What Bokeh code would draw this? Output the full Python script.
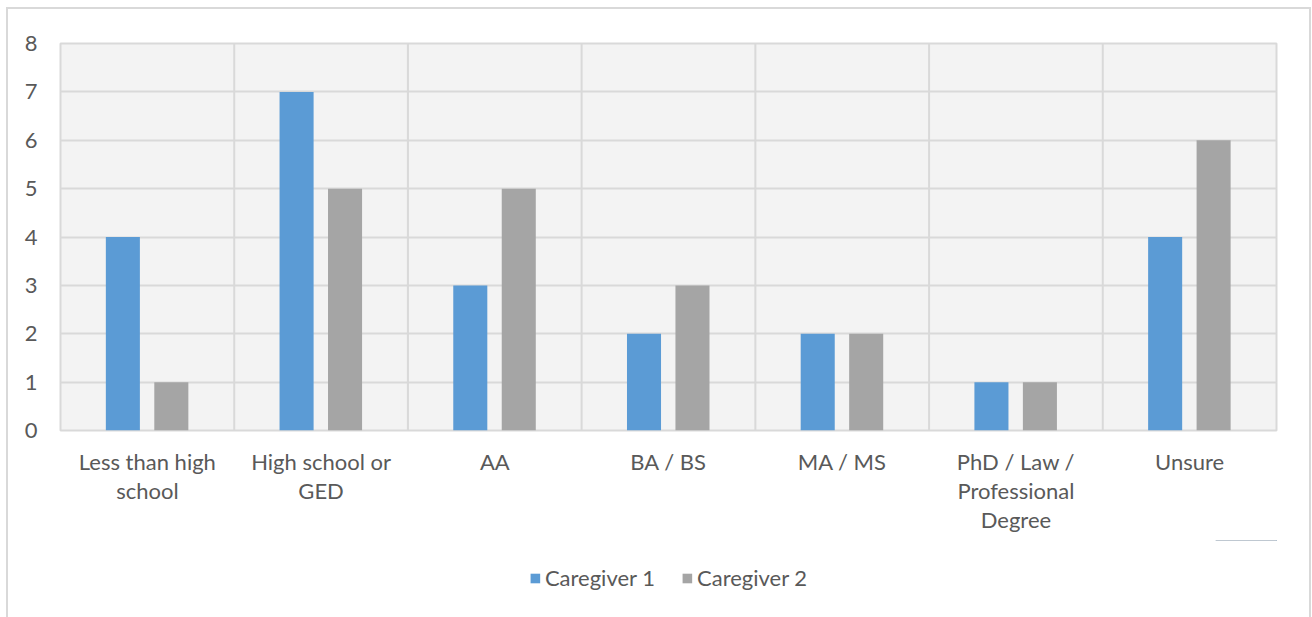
from bokeh.plotting import figure
from bokeh.layouts import column
from bokeh.models import (ColumnDataSource, FactorRange, Range1d, Span, Legend, LegendItem,
                          FixedTicker)
from bokeh.transform import dodge
from bokeh.embed import file_html
from bokeh.resources import INLINE

# Education level of each caregiver (counts of respondents)
categories = ["Less than high\nschool", "High school or\nGED", "AA", "BA / BS",
              "MA / MS", "PhD / Law /\nProfessional\nDegree", "Unsure"]
caregiver_1 = [4, 7, 3, 2, 2, 1, 4]
caregiver_2 = [1, 5, 5, 3, 2, 1, 6]
series_names = ["Caregiver 1", "Caregiver 2"]
y_ticks = [0, 1, 2, 3, 4, 5, 6, 7, 8]

BLUE = "#5b9bd5"
GRAY = "#a5a5a5"
GRID = "#d9d9d9"
TEXT = "#595959"
FONT = "Lato"

source = ColumnDataSource(dict(cat=categories, c1=caregiver_1, c2=caregiver_2))

# ---- main bar chart ----
p = figure(width=1301, height=531, x_range=FactorRange(*categories),
           y_range=Range1d(0, 8), output_backend="svg", toolbar_location=None,
           min_border_left=52, min_border_right=33, min_border_top=34,
           min_border_bottom=110)

p.background_fill_color = "#f3f3f3"
p.border_fill_color = "white"
p.outline_line_color = GRID
p.outline_line_width = 2

# vertical separators between categories
for i in range(1, len(categories)):
    p.add_layout(Span(location=i, dimension="height", line_color=GRID, line_width=2,
                      level="underlay"))

p.vbar(x=dodge("cat", -0.141, range=p.x_range), top="c1", width=0.196,
       source=source, color=BLUE, line_color=None)
p.vbar(x=dodge("cat", 0.138, range=p.x_range), top="c2", width=0.196,
       source=source, color=GRAY, line_color=None)

p.xgrid.visible = False
p.ygrid.grid_line_color = GRID
p.ygrid.grid_line_width = 2
p.yaxis.ticker = FixedTicker(ticks=y_ticks)

for ax in (p.xaxis[0], p.yaxis[0]):
    ax.axis_line_color = None
    ax.major_tick_line_color = None
    ax.minor_tick_line_color = None
    ax.major_label_text_font = FONT
    ax.major_label_text_font_size = "22px"
    ax.major_label_text_color = TEXT
    ax.major_label_text_line_height = 1.09

p.yaxis.major_label_standoff = 17
p.xaxis.major_label_standoff = 11

# ---- legend strip under the chart ----
# its y range lies below zero, so the key renderers only show up as legend swatches
lg = figure(width=1301, height=77, x_range=Range1d(0, 1), y_range=Range1d(-2, -1),
            output_backend="svg", toolbar_location=None, min_border=0)
lg.axis.visible = False
lg.grid.visible = False
lg.outline_line_color = None
lg.background_fill_color = "white"
lg.border_fill_color = "white"

key1 = lg.vbar(x="c1", top="c1", width=0.1, source=source, color=BLUE, line_color=None)
key2 = lg.vbar(x="c2", top="c2", width=0.1, source=source, color=GRAY, line_color=None)

legend = Legend(items=[LegendItem(label=series_names[0], renderers=[key1]),
                       LegendItem(label=series_names[1], renderers=[key2])],
                orientation="horizontal", location="top_center",
                label_text_font=FONT, label_text_font_size="22px",
                label_text_color=TEXT, glyph_width=12, glyph_height=12,
                label_standoff=4, spacing=26, border_line_color=None,
                background_fill_alpha=0, margin=24, padding=0)
lg.add_layout(legend, "center")

# chart border around the whole graphic (open at the bottom)
layout = column(p, lg, spacing=0,
                styles={"margin-left": "6px", "margin-top": "7px",
                        "border-left": f"2px solid {GRID}",
                        "border-top": f"2px solid {GRID}",
                        "border-right": f"2px solid {GRID}"})

open("out.html", "w").write(file_html(layout, INLINE))
